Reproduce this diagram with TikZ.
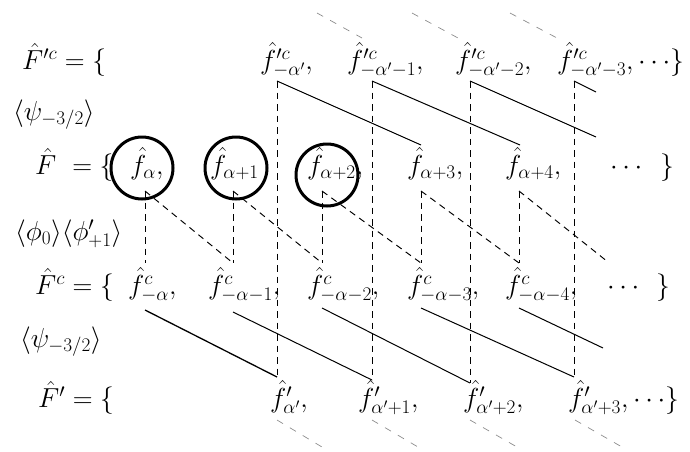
\RequirePackage{fix-cm}
\documentclass[tikz,border=0pt]{standalone}
\begin{document}
\begin{tikzpicture}[x=1pt,y=-1pt,
  lbl/.style={anchor=base west,inner sep=0pt,font=\fontsize{27.5}{33}\selectfont},
  solidln/.style={line width=1.0pt},
  dsh/.style={line width=0.95pt,dash pattern=on 6.5pt off 5pt},
  ghost/.style={line width=0.7pt,black!45,dash pattern=on 7pt off 8pt},
  ring/.style={draw,circle,line width=3pt,minimum size=62pt,inner sep=0pt}]
\useasboundingbox (0,0) rectangle (690,451);
% row labels
\node[lbl] (L1) at (22,69) {$\hat F'^c = \{$};
\node[lbl] (L2) at (13,120) {$\langle\psi_{-3/2}\rangle$};
\node[lbl] (L3) at (35,174) {$\hat F\ = \{$};
\node[lbl] (L4) at (15,240) {$\langle\phi_0\rangle\langle\phi'_{+1}\rangle$};
\node[lbl] (L5) at (35,294) {$\hat F^c = \{$};
\node[lbl] (L6) at (20,347) {$\langle\psi_{-3/2}\rangle$};
\node[lbl] (L7) at (38,407) {$\hat F' = \{$};
% row F'^c
\node[lbl] (a1) at (260,69) {$\hat f'^c_{-\alpha'},$};
\node[lbl] (a2) at (347,69) {$\hat f'^c_{-\alpha'-1},$};
\node[lbl] (a3) at (455,69) {$\hat f'^c_{-\alpha'-2},$};
\node[lbl] (a4) at (557,69) {$\hat f'^c_{-\alpha'-3},\cdots\}$};
% row F
\node[lbl] (b1) at (130,174) {$\hat f_{\alpha},$};
\node[lbl] (b2) at (210,174) {$\hat f_{\alpha+1}$};
\node[lbl] (b3) at (307,174) {$\hat f_{\alpha+2},$};
\node[lbl] (b4) at (407,174) {$\hat f_{\alpha+3},$};
\node[lbl] (b5) at (505,174) {$\hat f_{\alpha+4},$};
\node[lbl] (b6) at (610,174) {$\cdots$};
\node[lbl] (b7) at (660,174) {$\}$};
% row F^c
\node[lbl] (d1) at (128,294) {$\hat f^c_{-\alpha},$};
\node[lbl] (d2) at (208,294) {$\hat f^c_{-\alpha-1},$};
\node[lbl] (d3) at (307,294) {$\hat f^c_{-\alpha-2},$};
\node[lbl] (d4) at (407,294) {$\hat f^c_{-\alpha-3},$};
\node[lbl] (d5) at (505,294) {$\hat f^c_{-\alpha-4},$};
\node[lbl] (d6) at (607,294) {$\cdots$};
\node[lbl] (d7) at (656,294) {$\}$};
% row F'
\node[lbl] (e1) at (270,407) {$\hat f'_{\alpha'},$};
\node[lbl] (e2) at (358,407) {$\hat f'_{\alpha'+1},$};
\node[lbl] (e3) at (463,407) {$\hat f'_{\alpha'+2},$};
\node[lbl] (e4) at (568,407) {$\hat f'_{\alpha'+3},\cdots\}$};
% circles
\node[ring] (c1) at (142,168) {};
\node[ring] (c2) at (236,168) {};
\node[ring] (c3) at (327,175) {};
% coordinates: top of long verticals
\coordinate (p1) at (277,81);
\coordinate (p2) at (372,81);
\coordinate (p3) at (470,81);
\coordinate (p4) at (574,81);
% bottom of long verticals
\coordinate (q1) at (277,377);
\coordinate (q2) at (372,380);
\coordinate (q3) at (470,383);
\coordinate (q4) at (574,377);
% under F row
\coordinate (u1) at (145,191);
\coordinate (u2) at (233,191);
\coordinate (u3) at (322,191);
\coordinate (u4) at (421,191);
\coordinate (u5) at (519,191);
\coordinate (v1) at (145,263);
\coordinate (v2) at (233,263);
\coordinate (v3) at (322,263);
\coordinate (v4) at (421,263);
\coordinate (v5) at (519,263);
\coordinate (v6) at (608,262);
% solid top line ends
\coordinate (s1) at (421,145);
\coordinate (s2) at (520,145);
\coordinate (s3) at (596,137);
\coordinate (s4) at (596,92);
% under F^c row
\coordinate (w1) at (145,310);
\coordinate (w2) at (233,312);
\coordinate (w3) at (322,308);
\coordinate (w4) at (421,308);
\coordinate (w5) at (519,308);
\coordinate (w6) at (603,348);
% long dashed verticals
\draw[dsh] (p1) -- (q1);
\draw[dsh] (p2) -- (q2);
\draw[dsh] (p3) -- (q3);
\draw[dsh] (p4) -- (q4);
% top solid lines
\draw[solidln] (p1) -- (s1);
\draw[solidln] (p2) -- (s2);
\draw[solidln] (p3) -- (s3);
\draw[solidln] (p4) -- (s4);
% short dashed verticals and diagonals
\draw[dsh] (u1) -- (v1);
\draw[dsh] (u2) -- (v2);
\draw[dsh] (u3) -- (v3);
\draw[dsh] (u4) -- (v4);
\draw[dsh] (u5) -- (v5);
\draw[dsh] (u1) -- (v2);
\draw[dsh] (u2) -- (v3);
\draw[dsh] (u3) -- (v4);
\draw[dsh] (u4) -- (v5);
\draw[dsh] (u5) -- (v6);
% bottom solid lines
\draw[solidln,line width=1.3pt] (w1) -- (q1);
\draw[solidln] (w2) -- (q2);
\draw[solidln] (w3) -- (q3);
\draw[solidln] (w4) -- (q4);
\draw[solidln] (w5) -- (w6);
% gray dashed continuations
\coordinate (g1) at (317,13);  \coordinate (h1) at (362,38);
\coordinate (g2) at (412,13);  \coordinate (h2) at (458,38);
\coordinate (g3) at (510,13);  \coordinate (h3) at (557,38);
\draw[ghost] (g1) -- (h1);
\draw[ghost] (g2) -- (h2);
\draw[ghost] (g3) -- (h3);
\coordinate (k1) at (277,420); \coordinate (m1) at (322,447);
\coordinate (k2) at (372,420); \coordinate (m2) at (418,447);
\coordinate (k3) at (470,420); \coordinate (m3) at (517,447);
\coordinate (k4) at (575,420); \coordinate (m4) at (622,447);
\draw[ghost] (k1) -- (m1);
\draw[ghost] (k2) -- (m2);
\draw[ghost] (k3) -- (m3);
\draw[ghost] (k4) -- (m4);
\end{tikzpicture}
\end{document}
